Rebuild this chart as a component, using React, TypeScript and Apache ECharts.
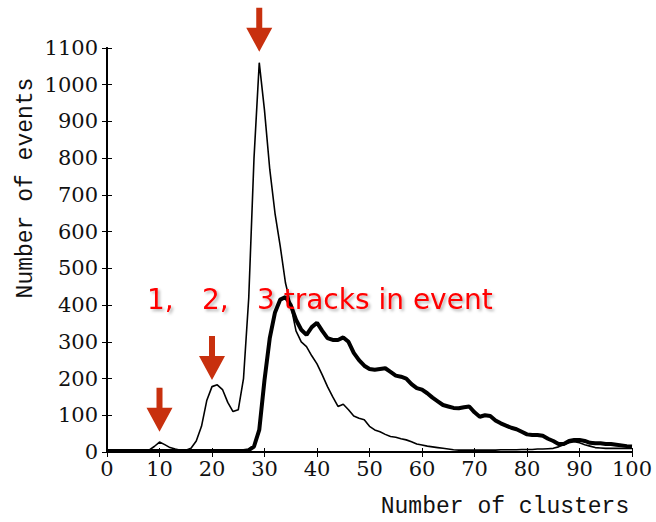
import React, { useEffect, useRef } from "react";
import * as echarts from "echarts";

const clusters = [
  0, 1, 2, 3, 4, 5, 6, 7, 8, 9, 10, 11, 12, 13, 14, 15, 16, 17, 18, 19, 20,
  21, 22, 23, 24, 25, 26, 27, 28, 29, 30, 31, 32, 33, 34, 35, 36, 37, 38, 39, 40,
  41, 42, 43, 44, 45, 46, 47, 48, 49, 50, 51, 52, 53, 54, 55, 56, 57, 58, 59, 60,
  61, 62, 63, 64, 65, 66, 67, 68, 69, 70, 71, 72, 73, 74, 75, 76, 77, 78, 79, 80,
  81, 82, 83, 84, 85, 86, 87, 88, 89, 90, 91, 92, 93, 94, 95, 96, 97, 98, 99, 100,
];

// thin curve
const thinEvents = [
  2, 2, 2, 2, 2, 2, 2, 3, 5, 15, 27, 20, 12, 8, 5, 5, 10, 30, 70, 140, 178,
  183, 170, 135, 110, 115, 200, 420, 800, 1060, 930, 770, 650, 560, 460, 400, 330, 300, 287, 262, 240,
  210, 178, 150, 124, 130, 115, 98, 92, 88, 70, 60, 55, 48, 42, 40, 36, 33, 28, 22, 19,
  16, 14, 12, 10, 8, 6, 5, 5, 5, 5, 5, 5, 5, 5, 6, 6, 6, 6, 7, 7,
  7, 8, 8, 9, 10, 14, 20, 25, 28, 25, 20, 16, 12, 11, 10, 10, 10, 10, 10, 10,
];

// thick curve
const thickEvents = [
  3, 3, 3, 3, 3, 3, 3, 3, 3, 3, 3, 3, 3, 3, 3, 3, 3, 3, 3, 3, 3,
  3, 3, 3, 3, 3, 3, 5, 15, 60, 196, 310, 380, 415, 422, 400, 360, 333, 319, 340, 352,
  330, 310, 305, 305, 312, 300, 270, 250, 235, 226, 224, 226, 228, 218, 208, 205, 200, 185, 174, 170,
  160, 148, 138, 128, 124, 120, 119, 122, 124, 108, 96, 100, 98, 86, 78, 72, 66, 62, 55, 48,
  46, 46, 44, 36, 30, 22, 22, 30, 33, 33, 30, 25, 24, 24, 22, 22, 20, 18, 16, 15,
];

// arrow tips (cluster, events)
const arrowX = [10, 20, 29];
const arrowY = [55, 196, 1090];

const labelTexts = ["1,", "2,", "3 tracks in event"];

const TICK_FONT = "DejaVu Serif";
const TITLE_FONT = "Liberation Mono";

export default function App() {
  const ref = useRef<HTMLDivElement>(null);
  useEffect(() => {
    if (!ref.current) return;
    const chart = echarts.init(ref.current, undefined, { renderer: "svg" });
    const axisLine = { show: true, lineStyle: { color: "#000", width: 2 } };
    const thin = clusters.map((c, i) => [c, thinEvents[i]]);
    const thick = clusters.map((c, i) => [c, thickEvents[i]]);
    const arrows = arrowX.map((x, i) => [x, arrowY[i]]);
    const redText = (x: number, text: string) => ({
      type: "text",
      z: 20,
      style: {
        x,
        y: 299,
        text,
        fill: "#ff0000",
        font: `28px "DejaVu Sans"`,
        textVerticalAlign: "middle",
        textShadowColor: "rgba(0,0,0,0.3)",
        textShadowBlur: 3,
        textShadowOffsetX: 2,
        textShadowOffsetY: 2,
      },
    });
    chart.setOption({
      animation: false,
      backgroundColor: "#fff",
      grid: { left: 107, right: 24, top: 48, bottom: 70, containLabel: false },
      xAxis: [
        {
          type: "value",
          min: 0,
          max: 100,
          interval: 10,
          position: "bottom",
          axisLine,
          axisTick: { show: true, inside: true, length: 4, lineStyle: { color: "#000", width: 1 } },
          splitLine: { show: false },
          axisLabel: {
            color: "#111",
            fontFamily: TICK_FONT,
            fontSize: 21,
            margin: 6,
            formatter: (v: number) => String(v),
          },
        },
        {
          type: "value",
          min: 0,
          max: 100,
          interval: 10,
          position: "top",
          axisLine,
          axisTick: { show: true, inside: true, length: 5, lineStyle: { color: "#000", width: 1 } },
          splitLine: { show: false },
          axisLabel: { show: false },
        },
      ],
      yAxis: [
        {
          type: "value",
          min: 0,
          max: 1100,
          interval: 100,
          position: "left",
          axisLine,
          axisTick: { show: true, inside: true, length: 5, lineStyle: { color: "#000", width: 1 } },
          splitLine: { show: false },
          axisLabel: {
            color: "#111",
            fontFamily: TICK_FONT,
            fontSize: 21,
            margin: 9,
            formatter: (v: number) => String(v),
          },
        },
        {
          type: "value",
          min: 0,
          max: 1100,
          interval: 100,
          position: "right",
          axisLine,
          axisTick: { show: true, inside: true, length: 5, lineStyle: { color: "#000", width: 1 } },
          splitLine: { show: false },
          axisLabel: { show: false },
        },
      ],
      series: [
        {
          type: "line",
          name: "thin",
          data: thin,
          showSymbol: false,
          symbol: "none",
          lineStyle: { color: "#000", width: 1.6 },
          z: 3,
        },
        {
          type: "line",
          name: "thick",
          data: thick,
          showSymbol: false,
          symbol: "none",
          lineStyle: { color: "#000", width: 4 },
          z: 4,
        },
        {
          type: "custom",
          name: "arrows",
          data: arrows,
          z: 10,
          clip: false,
          renderItem: (params: any, api: any) => {
            const p = api.coord([api.value(0), api.value(1)]);
            const x = p[0];
            const y = p[1];
            return {
              type: "polygon",
              shape: {
                points: [
                  [x - 3, y - 44],
                  [x + 3, y - 44],
                  [x + 3, y - 24],
                  [x + 13, y - 24],
                  [x, y],
                  [x - 13, y - 24],
                  [x - 3, y - 24],
                ],
              },
              style: { fill: "#c8300e" },
            };
          },
        },
      ],
      graphic: [
        {
          type: "text",
          style: {
            x: 505,
            y: 507,
            text: "Number of clusters",
            fill: "#111",
            font: `23px "${TITLE_FONT}"`,
            textAlign: "center",
            textVerticalAlign: "middle",
          },
        },
        {
          type: "text",
          x: 26,
          y: 188,
          rotation: Math.PI / 2,
          style: {
            x: 0,
            y: 0,
            text: "Number of events",
            fill: "#111",
            font: `23px "${TITLE_FONT}"`,
            textAlign: "center",
            textVerticalAlign: "middle",
          },
        },
        redText(147, labelTexts[0]),
        redText(202, labelTexts[1]),
        redText(257, labelTexts[2]),
      ],
    });
    return () => chart.dispose();
  }, []);
  return (
    <div
      ref={ref}
      style={{ position: "fixed", left: 0, top: 0, width: 656, height: 522, background: "#fff" }}
    />
  );
}
